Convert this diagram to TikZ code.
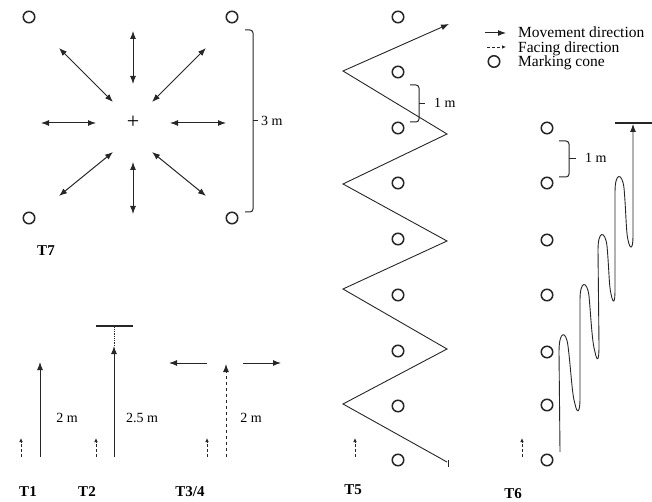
\documentclass[tikz,border=0pt]{standalone}
\usepackage{fontspec}
\setmainfont{Liberation Serif}
\usetikzlibrary{arrows.meta}
\definecolor{inkc}{RGB}{38,38,38}
\begin{document}
\begin{tikzpicture}[x=1pt,y=-1pt,
  ink/.style={draw=inkc, line width=1pt},
  cone/.style={circle, draw=inkc, line width=1.5pt, minimum size=11.5pt, inner sep=0pt},
  mv/.style={ink, -{Latex[length=8pt,width=6pt]}},
  mvtwo/.style={ink, {Latex[length=8pt,width=6pt]}-{Latex[length=8pt,width=6pt]}},
  face/.style={draw=inkc, line width=0.7pt, densely dashed, -{Latex[length=4pt,width=3.5pt]}},
  lbl/.style={font=\fontsize{14}{16}\selectfont, inner sep=0pt},
  tlbl/.style={font=\fontsize{15}{17}\selectfont\bfseries, inner sep=0pt},
  leg/.style={font=\fontsize{15.5}{17}\selectfont, inner sep=0pt, anchor=base west},
  bracestyle/.style={draw=inkc, line width=1pt, rounded corners=3pt},
]
\useasboundingbox (0,0) rectangle (652,502);

% ---------------- T7 ----------------
\node[cone] (c7a) at (29,17) {};
\node[cone] (c7b) at (232,17) {};
\node[cone] (c7c) at (29,218) {};
\node[cone] (c7d) at (232,218) {};
\node[font=\fontsize{22}{24}\selectfont, inner sep=0pt] (plus) at (133,122) {+};
\coordinate (a1) at (133,31);  \coordinate (a2) at (133,84);
\coordinate (b1) at (133,162); \coordinate (b2) at (133,214);
\coordinate (l1) at (41,123);  \coordinate (l2) at (96,123);
\coordinate (r1) at (170,123); \coordinate (r2) at (226,123);
\coordinate (d1) at (59,48);   \coordinate (d2) at (113,102);
\coordinate (e1) at (206,48);  \coordinate (e2) at (152,102);
\coordinate (f1) at (113,152); \coordinate (f2) at (59,196);
\coordinate (g1) at (152,152); \coordinate (g2) at (206,196);
\draw[mvtwo] (a1) -- (a2);
\draw[mvtwo] (b1) -- (b2);
\draw[mvtwo] (l1) -- (l2);
\draw[mvtwo] (r1) -- (r2);
\draw[mvtwo] (d1) -- (d2);
\draw[mvtwo] (e1) -- (e2);
\draw[mvtwo] (f1) -- (f2);
\draw[mvtwo] (g1) -- (g2);
\draw[bracestyle] (245,30) -| (253,121) |- (245,212);
\coordinate (br7) at (253,121); \coordinate (br7t) at (258,121);
\draw[ink] (br7) -- (br7t);
\node[lbl, anchor=west] (m3) at (261,121) {3 m};
\node[tlbl] (t7) at (46,251) {T7};

% ---------------- T1 ----------------
\coordinate (f1a) at (21,457); \coordinate (f1b) at (21,438);
\draw[face] (f1a) -- (f1b);
\coordinate (t1a) at (40,457); \coordinate (t1b) at (40,362);
\draw[mv] (t1a) -- (t1b);
\node[lbl] (l2m) at (67,418) {2 m};
\node[tlbl] (t1) at (28,492) {T1};

% ---------------- T2 ----------------
\coordinate (f2a) at (96,457); \coordinate (f2b) at (96,438);
\draw[face] (f2a) -- (f2b);
\coordinate (t2a) at (114,457); \coordinate (t2b) at (114,346);
\coordinate (t2c) at (114,326);
\draw[mv] (t2a) -- (t2b);
\draw[draw=inkc, line width=0.8pt, densely dotted] (t2b) -- (t2c);
\coordinate (bar2a) at (96,326); \coordinate (bar2b) at (133,326);
\draw[ink, line width=1.2pt] (bar2a) -- (bar2b);
\node[lbl] (l25m) at (142,418) {2.5 m};
\node[tlbl] (t2) at (87,492) {T2};

% ---------------- T3/4 ----------------
\coordinate (f3a) at (207,457); \coordinate (f3b) at (207,438);
\draw[face] (f3a) -- (f3b);
\coordinate (t3a) at (226,457); \coordinate (t3b) at (226,364);
\draw[ink, dashed, -{Latex[length=8pt,width=6pt]}] (t3a) -- (t3b);
\coordinate (h1a) at (207,363); \coordinate (h1b) at (169,363);
\coordinate (h2a) at (243,363); \coordinate (h2b) at (281,363);
\draw[mv] (h1a) -- (h1b);
\draw[mv] (h2a) -- (h2b);
\node[lbl] (l2mb) at (251,418) {2 m};
\node[tlbl] (t34) at (190,492) {T3/4};

% ---------------- T5 ----------------
\foreach \i/\y in {1/17,2/72,3/128,4/183,5/239,6/295,7/351,8/406,9/460}{
  \node[cone] (t5c\i) at (398,\y) {};
}
\coordinate (z0) at (447,462);
\coordinate (z1) at (343,404);
\coordinate (z2) at (447,349);
\coordinate (z3) at (343,289);
\coordinate (z4) at (447,241);
\coordinate (z5) at (343,184);
\coordinate (z6) at (447,134);
\coordinate (z7) at (343,71);
\coordinate (z8) at (449,24);
\draw[mv, line width=0.9pt] (z0) -- (z1) -- (z2) -- (z3) -- (z4) -- (z5) -- (z6) -- (z7) -- (z8);
\coordinate (tk1) at (448,460); \coordinate (tk2) at (448,467);
\draw[ink] (tk1) -- (tk2);
\draw[bracestyle] (410,85) -| (419,104) |- (410,122);
\coordinate (br5) at (419,104); \coordinate (br5t) at (425,104);
\draw[ink] (br5) -- (br5t);
\node[lbl, anchor=west] (m1a) at (434,103) {1 m};
\coordinate (f5a) at (355,457); \coordinate (f5b) at (355,438);
\draw[face] (f5a) -- (f5b);
\node[tlbl] (t5) at (353,490) {T5};

% ---------------- T6 ----------------
\foreach \i/\y in {1/128,2/183,3/240,4/295,5/352,6/405,7/460}{
  \node[cone] (t6c\i) at (547,\y) {};
}
\draw[bracestyle] (559,141) -| (569,159) |- (559,177);
\coordinate (br6) at (569,159); \coordinate (br6t) at (576,159);
\draw[ink] (br6) -- (br6t);
\node[lbl, anchor=west] (m1b) at (585,158) {1 m};
\coordinate (w0) at (560,452);
\coordinate (w9) at (633,124);
\draw[ink, line width=0.9pt, -{Latex[length=8pt,width=6pt]}]
  (w0) -- (559,352)
  .. controls (559,330) and (566,330) .. (568,346)
  .. controls (571,370) and (572,395) .. (575,404)
  .. controls (577,414) and (580,414) .. (580,398)
  -- (580,300)
  .. controls (580,280) and (587,280) .. (589,296)
  .. controls (591,318) and (592,342) .. (595,352)
  .. controls (597,362) and (599,362) .. (599,346)
  -- (598,250)
  .. controls (598,230) and (605,230) .. (607,246)
  .. controls (609,268) and (609,286) .. (611,294)
  .. controls (613,304) and (615,304) .. (615,290)
  -- (615,192)
  .. controls (615,172) and (622,172) .. (624,188)
  .. controls (626,210) and (626,232) .. (628,240)
  .. controls (630,250) and (633,250) .. (633,236)
  -- (w9);
\coordinate (bar6a) at (615,123); \coordinate (bar6b) at (652,123);
\draw[ink, line width=1.2pt] (bar6a) -- (bar6b);
\coordinate (f6a) at (522,457); \coordinate (f6b) at (522,438);
\draw[face] (f6a) -- (f6b);
\node[tlbl] (t6) at (513,494) {T6};

% ---------------- Legend ----------------
\coordinate (lg1a) at (485,33); \coordinate (lg1b) at (506,33);
\draw[mv] (lg1a) -- (lg1b);
\node[leg] (lgt1) at (518,38) {Movement direction};
\coordinate (lg2a) at (487,47); \coordinate (lg2b) at (506,47);
\draw[face] (lg2a) -- (lg2b);
\node[leg] (lgt2) at (518,52.5) {Facing direction};
\node[cone] (lgc) at (494,61.5) {};
\node[leg] (lgt3) at (518,67) {Marking cone};
\end{tikzpicture}
\end{document}
